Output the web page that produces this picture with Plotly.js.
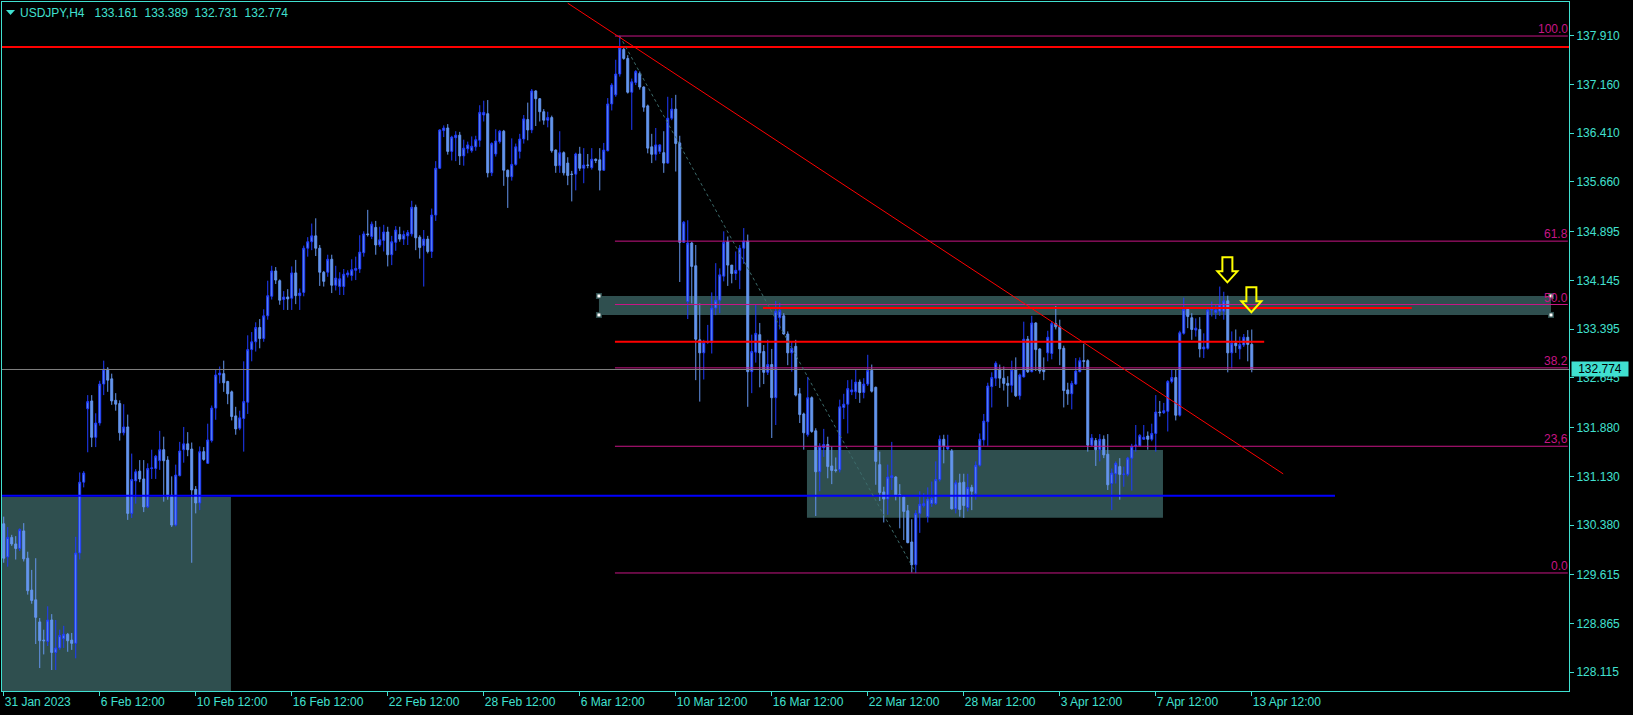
<!DOCTYPE html>
<html><head><meta charset="utf-8">
<script src="https://cdn.plot.ly/plotly-3.0.1.min.js"></script>
<style>html,body{margin:0;padding:0;background:#000;overflow:hidden}#chart{width:1633px;height:715px}</style>
</head><body><div id="chart"></div>
<script>
const symbol = 'USDJPY,H4';
const open = [
130.40,129.89,130.19,130.09,130.02,130.29,129.87,129.38,129.23,128.89,
128.61,128.59,128.92,128.42,128.49,128.63,128.70,128.61,128.56,129.95,
131.04,132.17,132.29,131.73,131.95,132.55,132.78,132.63,132.30,132.25,
131.80,131.89,130.56,131.06,131.21,131.09,130.66,131.25,131.25,131.37,
131.54,131.38,130.84,130.38,131.14,131.54,131.63,131.55,130.93,130.72,
131.51,131.33,131.68,132.18,132.69,132.71,132.59,132.43,132.06,131.87,
132.02,132.27,133.08,133.20,133.42,133.25,133.60,133.90,134.29,134.14,
133.85,133.89,133.87,134.26,133.91,133.96,134.64,134.74,134.83,134.64,
134.27,134.27,134.47,134.07,134.05,134.05,134.23,134.22,134.30,134.32,
134.57,134.86,134.82,134.96,134.69,134.76,134.89,134.54,134.73,134.85,
134.78,134.83,134.86,135.27,134.81,134.68,134.78,134.59,135.15,135.87,
136.45,136.49,136.13,136.34,136.38,136.06,136.17,136.14,136.20,136.30,
136.69,136.71,135.80,136.09,136.28,136.44,135.84,135.74,135.93,136.13,
136.32,136.62,136.46,137.06,136.94,136.74,136.61,136.65,136.15,135.91,
136.11,135.95,135.78,135.78,136.09,135.87,135.92,135.88,136.01,136.00,
135.84,136.14,136.86,137.00,137.32,137.70,137.56,137.04,137.19,137.33,
137.12,136.83,136.20,136.085,136.13,136.11,135.95,136.64,136.78,136.26,
134.73,133.82,134.72,134.37,133.23,133.03,133.19,133.19,133.72,133.84,
134.21,134.74,134.38,134.25,134.30,134.64,134.75,132.74,133.04,133.31,
133.05,132.73,132.85,132.34,133.57,133.60,133.32,133.03,133.13,132.40,
132.09,131.77,132.34,131.83,131.20,131.57,131.62,131.29,131.23,131.23,
132.19,132.24,132.43,132.43,132.58,132.42,132.55,132.76,132.50,131.31,
130.89,130.78,131.11,131.12,130.85,130.81,130.60,130.12,129.77,130.56,
130.68,130.51,130.71,130.71,131.08,131.70,131.55,131.52,130.63,131.03,
131.04,130.65,130.96,130.86,131.30,131.69,131.97,132.51,132.64,132.78,
132.64,132.56,132.53,132.77,132.37,132.66,133.24,132.74,133.49,133.09,
132.78,133.03,133.02,133.48,133.43,133.10,132.46,132.40,132.55,132.74,
132.91,132.91,131.61,131.68,131.54,131.70,131.47,131.02,131.17,131.28,
131.16,131.16,131.41,131.60,131.60,131.70,131.75,131.70,131.79,132.12,
132.11,132.13,132.59,132.65,132.07,133.33,133.70,133.57,133.38,133.39,
133.09,133.10,133.69,133.65,133.67,133.67,133.83,133.03,133.18,133.09,
133.15,133.27,133.161];
const high = [
130.51,130.35,130.23,130.21,130.33,130.41,129.97,129.69,129.87,128.95,
128.77,129.13,129.01,128.92,128.77,128.83,128.72,128.72,130.20,131.19,
131.21,132.38,132.38,132.10,132.60,132.91,132.81,132.71,132.41,132.30,
132.24,132.08,131.48,131.24,131.38,131.38,131.33,131.54,131.46,131.83,
131.74,131.44,131.13,131.31,131.66,131.89,131.81,131.65,130.98,131.59,
131.58,131.94,132.22,132.78,132.82,132.91,132.60,132.45,132.20,132.14,
132.90,133.30,133.35,133.50,133.55,133.70,134.14,134.37,134.35,134.16,
133.98,134.01,134.36,134.46,134.02,134.68,134.81,135.02,135.10,134.69,
134.29,134.54,134.54,134.37,134.27,134.32,134.30,134.47,134.51,134.84,
134.90,135.23,135.05,135.06,134.97,135.00,134.97,134.83,134.98,134.97,
134.91,134.92,135.37,135.31,134.84,134.92,134.83,135.25,135.98,136.47,
136.53,136.55,136.37,136.44,136.43,136.31,136.28,136.36,136.37,136.84,
136.91,136.92,136.27,136.47,136.46,136.46,135.85,136.33,136.25,136.40,
136.69,136.88,137.09,137.07,136.95,136.78,136.74,136.68,136.16,136.44,
136.13,136.04,135.83,136.11,136.20,136.18,136.09,136.18,136.02,136.18,
136.26,136.95,137.18,137.54,137.91,137.74,137.61,137.25,137.38,137.36,
137.13,136.85,136.40,136.49,136.24,136.44,136.97,136.95,137.00,136.37,
135.06,135.07,134.74,134.69,133.79,133.23,133.46,133.96,134.41,134.33,
134.90,134.82,134.38,134.59,134.69,134.95,134.85,133.31,133.77,133.49,
133.15,133.23,133.09,133.83,133.80,133.64,133.36,133.20,133.23,132.49,
132.11,132.66,132.36,131.87,131.64,131.86,131.74,131.59,131.42,132.31,
132.40,132.61,132.62,132.78,132.62,132.64,133.00,132.85,132.51,131.51,
130.97,131.31,131.66,131.13,131.01,130.83,130.69,130.47,130.61,130.90,
130.87,130.96,131.05,131.36,131.76,131.77,131.77,131.55,131.07,131.17,
131.17,131.17,131.00,131.36,131.79,132.09,132.57,132.73,132.90,132.85,
132.82,132.67,132.91,132.96,132.71,133.51,133.29,133.60,133.50,133.10,
132.96,133.37,133.52,133.75,133.54,133.14,132.57,132.60,132.95,132.96,
133.17,132.93,131.78,131.72,131.78,131.76,131.78,131.25,131.36,131.41,
131.28,131.43,131.63,131.92,131.78,131.92,131.82,131.94,132.38,132.29,
132.26,132.61,132.77,132.77,133.37,133.88,133.73,133.64,133.56,133.58,
133.33,133.70,133.82,133.77,134.05,133.97,133.91,133.36,133.39,133.28,
133.32,133.38,133.389];
const low = [
129.80,129.74,130.06,129.85,129.98,129.82,129.31,129.17,128.55,128.18,
128.39,128.52,128.15,128.15,128.46,128.49,128.43,128.46,128.33,129.85,
130.96,131.50,131.58,131.58,131.91,132.38,132.43,132.23,132.14,131.68,
131.76,130.46,130.49,130.71,131.04,130.58,130.64,131.09,131.09,131.23,
130.74,130.77,130.35,130.36,131.13,131.34,131.44,129.80,130.56,130.61,
131.37,131.32,131.65,132.00,132.56,132.43,132.24,131.99,131.77,131.84,
131.51,132.09,132.90,133.05,133.10,133.20,133.54,133.85,134.09,133.77,
133.69,133.69,133.69,133.78,133.69,133.90,134.51,134.61,134.52,134.06,
134.05,134.20,133.95,133.99,133.92,133.92,134.19,134.14,134.15,134.26,
134.51,134.82,134.78,134.54,134.66,134.59,134.36,134.38,134.60,134.74,
134.69,134.69,134.82,134.61,134.48,134.05,134.56,134.49,135.06,135.86,
136.35,136.08,135.99,135.98,135.92,135.91,136.10,136.11,136.14,136.20,
136.59,135.73,135.75,136.05,136.25,135.60,135.26,135.68,135.91,136.02,
136.25,136.30,136.41,136.52,136.59,136.54,136.50,136.11,135.80,135.80,
135.76,135.61,135.36,135.53,135.83,135.64,135.87,135.85,135.95,135.53,
135.83,136.13,136.76,136.97,137.28,137.54,137.02,136.46,137.15,137.08,
136.74,136.10,135.95,135.99,136.09,135.80,135.94,136.61,135.82,134.12,
134.72,133.55,133.79,132.61,132.28,132.62,133.17,133.02,133.61,133.64,
134.13,134.06,134.10,134.15,134.01,134.40,132.20,132.41,132.88,132.50,
132.55,132.69,131.72,131.92,133.39,133.31,132.84,132.74,132.36,131.95,
131.54,131.74,131.80,130.52,130.90,131.43,131.10,131.01,131.19,131.19,
132.01,131.79,132.38,132.32,132.26,132.33,132.52,132.42,131.00,130.75,
130.42,130.54,130.92,130.76,130.33,130.15,130.10,129.65,129.64,130.26,
130.65,130.42,130.66,130.69,131.05,131.33,131.53,130.62,130.56,130.51,
130.49,130.59,130.61,130.77,131.28,131.60,131.60,132.19,132.52,132.49,
132.45,132.20,132.42,132.35,132.31,132.65,132.72,132.73,132.75,132.71,
132.61,132.90,132.93,133.39,132.84,132.19,132.23,132.16,132.54,132.73,
132.79,131.51,131.59,131.29,131.36,131.41,130.92,130.61,131.02,130.77,
130.97,131.13,130.91,131.51,131.59,131.69,131.54,131.67,131.51,132.05,
132.09,131.82,132.56,131.99,132.05,133.31,133.41,133.23,133.28,132.96,
132.95,133.08,133.59,133.55,133.60,133.54,132.73,132.79,133.03,132.93,
133.12,132.90,132.731];
const close = [
129.87,130.19,130.09,130.02,130.31,129.86,129.37,129.22,128.96,128.60,
128.60,128.92,128.42,128.49,128.68,128.70,128.60,128.56,129.95,131.04,
131.18,132.28,131.73,131.95,132.55,132.78,132.61,132.29,132.24,131.80,
131.89,130.56,131.08,131.20,131.09,130.66,131.25,131.26,131.44,131.54,
131.37,130.82,130.38,131.15,131.52,131.63,131.54,130.92,130.72,131.51,
131.39,131.69,132.18,132.69,132.72,132.57,132.40,132.05,131.86,132.03,
132.28,133.08,133.20,133.42,133.25,133.60,133.91,134.29,134.15,133.84,
133.89,133.86,134.26,133.91,133.95,134.64,134.74,134.83,134.64,134.27,
134.13,134.47,134.07,134.18,134.17,134.24,134.26,134.31,134.33,134.58,
134.86,134.85,135.01,134.69,134.77,134.89,134.54,134.74,134.92,134.78,
134.85,134.88,135.27,134.80,134.65,134.78,134.59,135.15,135.87,136.46,
136.49,136.13,136.35,136.38,136.06,136.18,136.23,136.21,136.31,136.73,
136.73,135.80,136.25,136.29,136.44,135.84,135.74,135.93,136.20,136.32,
136.63,136.46,137.06,136.94,136.74,136.61,136.65,136.14,135.91,136.11,
135.80,135.76,135.775,136.09,135.87,135.92,135.915,136.01,135.99,135.84,
136.15,136.86,137.15,137.32,137.72,137.56,137.04,137.20,137.36,137.12,
136.81,136.18,136.085,136.23,136.23,135.95,136.64,136.78,136.25,134.73,
135.04,134.72,134.36,133.24,133.03,133.19,133.20,133.72,133.84,134.23,
134.73,134.38,134.25,134.30,134.64,134.75,132.74,133.05,133.33,133.03,
132.73,132.85,132.34,133.67,133.68,133.32,133.03,133.10,132.38,132.08,
131.80,132.34,131.82,131.20,131.59,131.62,131.28,131.22,131.22,132.20,
132.24,132.48,132.46,132.58,132.42,132.55,132.76,132.44,131.36,130.88,
130.78,131.12,131.14,130.84,130.83,130.59,130.11,129.77,130.56,130.70,
130.71,130.78,130.79,131.08,131.70,131.60,131.59,130.63,131.03,130.62,
130.68,130.96,130.90,131.30,131.70,131.98,132.52,132.65,132.87,132.64,
132.56,132.53,132.77,132.37,132.69,133.24,132.74,133.49,133.08,132.75,
132.74,133.27,133.48,133.43,133.09,132.45,132.40,132.56,132.75,132.91,
132.90,131.61,131.72,131.54,131.70,131.46,131.00,131.18,131.33,131.16,
131.165,131.41,131.59,131.61,131.76,131.73,131.70,131.79,132.12,132.11,
132.14,132.59,132.65,132.07,133.34,133.70,133.59,133.39,133.41,133.09,
133.12,133.69,133.70,133.69,133.77,133.83,133.03,133.18,133.14,133.16,
133.27,133.16,132.774];

const xTickLabels = ['31 Jan 2023','6 Feb 12:00','10 Feb 12:00','16 Feb 12:00','22 Feb 12:00','28 Feb 12:00','6 Mar 12:00','10 Mar 12:00','16 Mar 12:00','22 Mar 12:00','28 Mar 12:00','3 Apr 12:00','7 Apr 12:00','13 Apr 12:00'];
const barsPerTick = 24;
const yTickValues = [137.910,137.160,136.410,135.660,134.895,134.145,133.395,132.645,131.880,131.130,130.380,129.615,128.865,128.115];

// Fibonacci retracement (from the 8 Mar high to the 24 Mar low)
const fibHigh = 137.905, fibLow = 129.643;
const fibLevels = [0, 23.6, 38.2, 50, 61.8, 100];
const fibLabels = ['0.0','23,6','38.2','50.0','61.8','100.0'];
const fibFromBar = 152.8, fibHighBar = 154, fibLowBar = 228;

// rectangles (bar index from/to, price bottom/top)
const zoneFrom = [-5, 200.8, 148.8];
const zoneTo = [56.8, 289.8, 386.8];
const zoneBottom = [127.0, 130.494, 133.613];
const zoneTop = [130.813, 131.536, 133.905];

// red horizontal lines
const redLevels = [137.735, 133.720, 133.202];
const redFrom = [-5, 189.8, 152.8];
const redTo = [400, 352, 315.1];
// blue support
const blueLevel = 130.83, blueTo = 332.8;
// red down trend line
const trendBars = [141.0, 319.85];
const trendPrices = [138.41, 131.168];
// yellow arrows
const arrowBars = [305.9, 311.9];
const arrowPrices = [134.10, 133.64];

const TQ = '#40E0D0', FIB = '#C71585', SLATE = '#2F4F4F';
const FONT = '"Liberation Sans", Arial, sans-serif';
const last = close.length - 1;
const xIndex = close.map((_, i) => i);
const X0 = -0.43, X1 = 391.3;

const shapes = [];
zoneFrom.forEach((f, k) => shapes.push({type:'rect', xref:'x', yref:'y', x0:f, x1:zoneTo[k], y0:zoneBottom[k], y1:zoneTop[k], fillcolor:SLATE, line:{width:0}, layer:'below'}));
shapes.push({type:'line', xref:'paper', yref:'y', x0:0, x1:1, y0:close[last], y1:close[last], line:{color:'#808080', width:1}});
redLevels.forEach((v, k) => shapes.push({type:'line', xref:'x', yref:'y', x0:redFrom[k], x1:redTo[k], y0:v, y1:v, line:{color:'#FF0000', width:2}}));
shapes.push({type:'line', xref:'x', yref:'y', x0:-5, x1:blueTo, y0:blueLevel, y1:blueLevel, line:{color:'#0000FF', width:2}});
fibLevels.forEach(l => { const v = fibLow + (fibHigh - fibLow) * l / 100; shapes.push({type:'line', xref:'x', yref:'y', x0:fibFromBar, x1:X1 - 0.3, y0:v, y1:v, line:{color:FIB, width:1}}); });
shapes.push({type:'line', xref:'x', yref:'y', x0:fibHighBar, x1:fibLowBar, y0:fibHigh, y1:fibLow, line:{color:'#3C6B6B', width:1, dash:'dot'}});
shapes.push({type:'line', xref:'x', yref:'y', x0:trendBars[0], x1:trendBars[1], y0:trendPrices[0], y1:trendPrices[1], line:{color:'#FF0000', width:1}});
// selection handles of the resistance rectangle
[[zoneFrom[2], zoneTop[2]], [zoneFrom[2], zoneBottom[2]], [zoneTo[2], zoneTop[2]], [zoneTo[2], zoneBottom[2]]].forEach(p => {
  shapes.push({type:'rect', xref:'x', yref:'y', xsizemode:'pixel', ysizemode:'pixel', xanchor:p[0], yanchor:p[1], x0:-3, x1:3, y0:-3, y1:3, fillcolor:SLATE, line:{width:0}});
  shapes.push({type:'rect', xref:'x', yref:'y', xsizemode:'pixel', ysizemode:'pixel', xanchor:p[0], yanchor:p[1], x0:-1.5, x1:1.5, y0:-1.5, y1:1.5, fillcolor:'#FFFFFF', line:{width:0}});
});
arrowBars.forEach((b, k) => shapes.push({type:'path', xref:'x', yref:'y', xsizemode:'pixel', ysizemode:'pixel', xanchor:b, yanchor:arrowPrices[k], path:'M-5,26 L5,26 L5,12 L10,12 L0,1 L-10,12 L-5,12 Z', fillcolor:'rgba(0,0,0,0)', line:{color:'#FFFF00', width:2}}));
// small triangle in the top-left corner
shapes.push({type:'path', xref:'paper', yref:'paper', xsizemode:'pixel', ysizemode:'pixel', xanchor:0, yanchor:1, path:'M4,-8 L13,-8 L8.5,-13 Z', fillcolor:TQ, line:{width:0}});

const annotations = [];
annotations.push({xref:'paper', yref:'paper', x:0, y:1, xanchor:'left', yanchor:'middle', xshift:16, yshift:-10.5, showarrow:false,
  text: symbol + '\u00a0\u00a0\u00a0' + [open[last], high[last], low[last], close[last]].map(v => v.toFixed(3)).join('\u00a0\u00a0'),
  font:{family:FONT, size:12, color:TQ}});
fibLevels.forEach((l, k) => { const v = fibLow + (fibHigh - fibLow) * l / 100;
  annotations.push({xref:'x', yref:'y', x:X1 - 0.3, y:v, xanchor:'right', yanchor:'bottom', yshift:-2, xshift:2, showarrow:false, text:fibLabels[k], font:{family:FONT, size:12, color:FIB}}); });
annotations.push({xref:'paper', yref:'y', x:1, y:close[last], xanchor:'left', yanchor:'middle', xshift:2, showarrow:false, text:close[last].toFixed(3),
  bgcolor:TQ, borderpad:1, width:54, height:12, align:'center', font:{family:FONT, size:12, color:'#000'}});

const trace = {type:'candlestick', x:xIndex, open, high, low, close, whiskerwidth:0, hoverinfo:'skip',
  increasing:{line:{color:'#1F3BFF', width:1}, fillcolor:'#6495ED'},
  decreasing:{line:{color:'#6495ED', width:1}, fillcolor:'#6495ED'}};

const layout = {
  width:1633, height:715, margin:{l:2, r:64, t:2, b:24, pad:0},
  paper_bgcolor:'#000', plot_bgcolor:'#000', showlegend:false, hovermode:false, dragmode:false,
  font:{family:FONT, size:12, color:TQ},
  xaxis:{range:[X0, X1], showgrid:false, zeroline:false, showline:true, mirror:true, linecolor:TQ, linewidth:1,
    ticks:'outside', ticklen:4, tickcolor:TQ, tickvals:xTickLabels.map((_, k) => k * barsPerTick), ticktext:xTickLabels,
    ticklabelposition:'outside right', tickfont:{family:FONT, size:12, color:TQ}, rangeslider:{visible:false}, fixedrange:true},
  yaxis:{range:[127.827, 138.4285], side:'right', showgrid:false, zeroline:false, showline:true, mirror:true, linecolor:TQ, linewidth:1,
    ticks:'outside', ticklen:4, tickcolor:TQ, tickvals:yTickValues, ticktext:yTickValues.map(v => v.toFixed(3)),
    tickfont:{family:FONT, size:12, color:TQ}, fixedrange:true},
  shapes, annotations
};
Plotly.newPlot('chart', [trace], layout, {staticPlot:true, displayModeBar:false});
</script></body></html>
